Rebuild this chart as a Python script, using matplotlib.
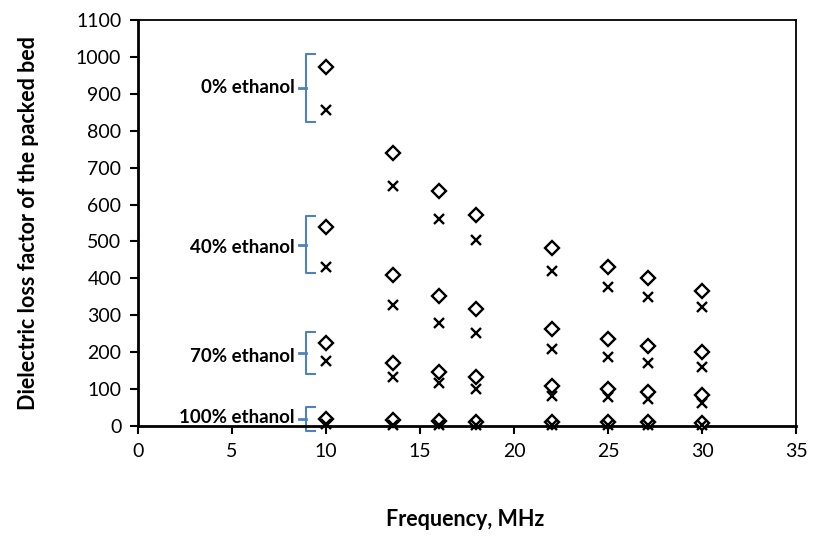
import matplotlib
matplotlib.use("Agg")
import matplotlib.pyplot as plt

plt.rcParams["font.family"] = ["Lato", "DejaVu Sans"]

freq = [10, 13.56, 16, 18, 22, 25, 27.12, 30]

# diamonds (upper point of each pair) and crosses (lower point), per ethanol level
eth0_d = [973, 740, 638, 573, 482, 430, 400, 365]
eth0_x = [857, 649, 562, 505, 420, 376, 349, 322]
eth40_d = [540, 408, 351, 316, 262, 235, 216, 200]
eth40_x = [432, 327, 278, 251, 208, 186, 170, 159]
eth70_d = [226, 170, 147, 132, 108, 100, 92, 84]
eth70_x = [176, 132, 116, 100, 81, 78, 73, 62]
eth100_d = [19, 15, 13, 12, 11, 10, 10, 9]
eth100_x = [6, 4, 4, 3, 3, 3, 3, 3]

group_labels = ["0% ethanol", "40% ethanol", "70% ethanol", "100% ethanol"]
label_y = [916, 484, 189, 24]
brace_span = [(1008, 824), (568, 414), (254, 141), (51, -14)]

fig = plt.figure(figsize=(8.14, 5.37), dpi=100)
ax = fig.add_axes([0.1695, 0.2067, 0.8085, 0.7560])

diamonds = [eth0_d, eth40_d, eth70_d, eth100_d]
crosses = [eth0_x, eth40_x, eth70_x, eth100_x]
for d, c in zip(diamonds, crosses):
    ax.plot(freq, d, linestyle="none", marker="D", markersize=6.8,
            markerfacecolor="white", markeredgecolor="black", markeredgewidth=1.7,
            clip_on=False, zorder=3)
    ax.plot(freq, c, linestyle="none", marker="x", markersize=6.5,
            color="black", markeredgewidth=1.7, clip_on=False, zorder=3)

# curly-brace style group markers
brace_col = "#4f81bd"
bx, tip, mid = 8.95, 0.45, 0.4
for lab, ly, (top, bot) in zip(group_labels, label_y, brace_span):
    ax.plot([bx + tip, bx, bx, bx + tip], [top, top, bot, bot], color=brace_col,
            lw=1.5, clip_on=False, zorder=2)
    ax.plot([bx - mid, bx], [(top + bot) / 2] * 2, color=brace_col, lw=2,
            clip_on=False, zorder=2)
    ax.text(bx - mid - 0.2, ly, lab, ha="right", va="center", fontsize=13.5,
            fontweight="bold")

ax.set_xlim(0, 35)
ax.set_ylim(0, 1100)
ax.set_xticks(range(0, 36, 5))
ax.set_yticks(range(0, 1101, 100))
ax.tick_params(direction="out", length=6, width=1.5, labelsize=14, pad=6)
for s in ["left", "bottom"]:
    ax.spines[s].set_linewidth(2)
for s in ["top", "right"]:
    ax.spines[s].set_linewidth(1.3)

ax.set_ylabel("Dielectric loss factor of the packed bed", fontsize=15.5,
              fontweight="bold")
ax.yaxis.set_label_coords(-0.15, 0.5)
ax.set_xlabel("Frequency, MHz", fontsize=15.5, fontweight="bold")
ax.xaxis.set_label_coords(0.497, -0.205)

fig.savefig("out.png", dpi=100)
